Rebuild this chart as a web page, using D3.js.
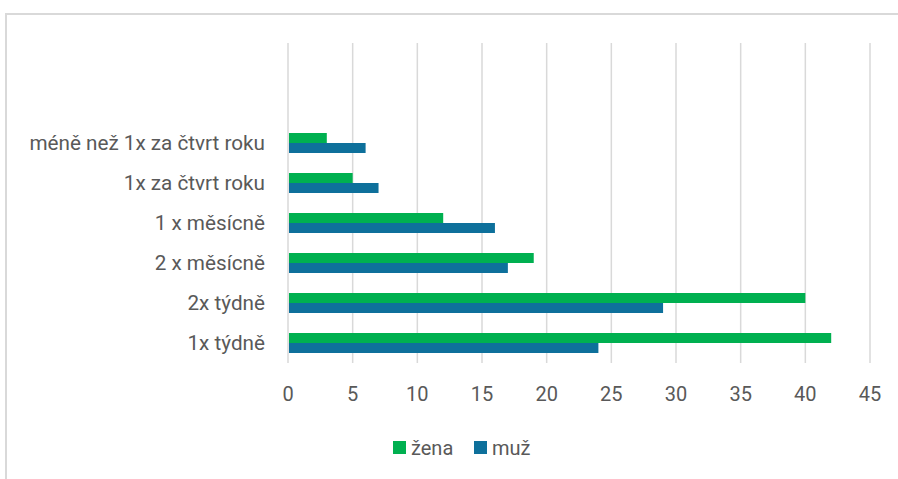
<!DOCTYPE html>
<html lang="cs">
<head>
<meta charset="utf-8">
<title>Chart</title>
<script src="https://d3js.org/d3.v7.min.js"></script>
<style>
    body { margin: 0; background: #fff; }
    svg { display: block; font-family: Roboto, "Liberation Sans", sans-serif; }
    .grid line { stroke: #d9d9d9; stroke-width: 1.5px; }
    .lbl { fill: #595959; font-size: 20px; }
    .cat { font-size: 20.7px; }
</style>
</head>
<body>
<svg></svg>
<script>
    // categories top to bottom (two empty slots at the top, as in the source chart)
    var categories = ["", " ", "méně než 1x za čtvrt roku", "1x za čtvrt roku", "1 x měsícně", "2 x měsícně", "2x týdně", "1x týdně"];
    var zena = [null, null, 3, 5, 12, 19, 40, 42];
    var muz = [null, null, 6, 7, 16, 17, 29, 24];
    var ticks = [0, 5, 10, 15, 20, 25, 30, 35, 40, 45];
    var seriesNames = ["žena", "muž"];
    var color = { "žena": "#00b050", "muž": "#0e709b" };

    var width = 898, height = 479;
    var svg = d3.select("svg").attr("width", width).attr("height", height);

    // outer chart border (runs off the right and bottom edge)
    svg.append("rect")
        .attr("x", 6).attr("y", 14)
        .attr("width", 1000).attr("height", 600)
        .attr("fill", "none")
        .attr("stroke", "#d9d9d9")
        .attr("stroke-width", 2);

    var x = d3.scaleLinear().domain([0, 45]).range([288, 870]);
    var y = d3.scaleBand().domain(categories).range([43, 363]).paddingInner(0.5).paddingOuter(0.25);
    var ySub = d3.scaleBand().domain(seriesNames).range([0, y.bandwidth()]);

    // gridlines
    svg.append("g").attr("class", "grid")
        .selectAll("line").data(ticks).join("line")
        .attr("x1", d => x(d)).attr("x2", d => x(d))
        .attr("y1", 43).attr("y2", 363);

    var rows = categories.map((c, i) => ({ cat: c, vals: [
        { s: "žena", v: zena[i] }, { s: "muž", v: muz[i] }
    ] }));

    var g = svg.append("g").selectAll("g").data(rows).join("g")
        .attr("transform", d => "translate(0," + y(d.cat) + ")");

    g.selectAll("rect").data(d => d.vals.filter(v => v.v != null)).join("rect")
        .attr("x", x(0) + 1)
        .attr("y", d => ySub(d.s))
        .attr("width", d => x(d.v) - x(0) - 1)
        .attr("height", ySub.bandwidth())
        .attr("fill", d => color[d.s]);

    // category labels
    svg.append("g").selectAll("text").data(categories).join("text")
        .attr("class", "lbl cat")
        .attr("x", 265)
        .attr("y", d => y(d) + y.bandwidth() / 2)
        .attr("dy", "0.35em")
        .attr("text-anchor", "end")
        .text(d => d.trim());

    // x tick labels
    svg.append("g").selectAll("text").data(ticks).join("text")
        .attr("class", "lbl")
        .attr("x", d => x(d))
        .attr("y", 394)
        .attr("dy", "0.35em")
        .attr("text-anchor", "middle")
        .text(d => d);

    // legend
    var legendX = [393, 474];
    var lg = svg.append("g").selectAll("g").data(seriesNames).join("g")
        .attr("transform", (d, i) => "translate(" + legendX[i] + ",441)");
    lg.append("rect").attr("width", 13).attr("height", 13).attr("fill", d => color[d]);
    lg.append("text").attr("class", "lbl")
        .attr("x", 18).attr("y", 7).attr("dy", "0.35em")
        .text(d => d);
</script>
</body>
</html>
